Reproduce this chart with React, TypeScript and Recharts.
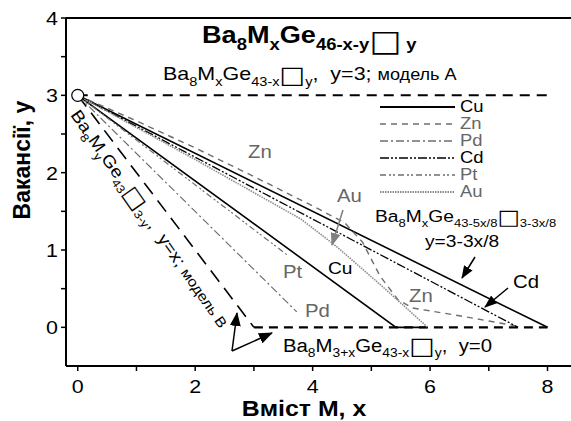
import React from 'react';
import { LineChart, Line, XAxis, YAxis, ReferenceLine, ReferenceDot, Legend } from 'recharts';

type Pt = { x: number; y: number };

const FONT = '"Liberation Sans", Arial, Helvetica, sans-serif';
const BOX_FONT = '"DejaVu Sans", sans-serif';
const GRAY = '#6e6e6e';
const TEXT_GRAY = '#666666';

// axis ticks
const xTicks = [0, 1, 2, 3, 4, 5, 6, 7, 8];
const xTickLabels = ['0', '', '2', '', '4', '', '6', '', '8'];
const yTicks = [0, 0.5, 1, 1.5, 2, 2.5, 3, 3.5, 4];
const yTickLabels = ['0', '', '1', '', '2', '', '3', '', '4'];

// model lines
const modelA: Pt[] = [{ x: 0, y: 3 }, { x: 8, y: 3 }];
const modelB: Pt[] = [{ x: 0, y: 3 }, { x: 3, y: 0 }];
const modelZero: Pt[] = [{ x: 3, y: 0 }, { x: 8, y: 0 }];
const modelMixed: Pt[] = [{ x: 0, y: 3 }, { x: 8, y: 0 }];

// element series
const cu: Pt[] = [{ x: 0, y: 3 }, { x: 5.42, y: 0 }, { x: 5.95, y: 0 }];
const zn: Pt[] = [
  { x: 0, y: 3 }, { x: 1, y: 2.67 }, { x: 2, y: 2.32 }, { x: 3, y: 1.95 }, { x: 4, y: 1.57 },
  { x: 4.55, y: 1.35 }, { x: 4.85, y: 1.1 }, { x: 5.15, y: 0.66 }, { x: 5.45, y: 0.36 },
  { x: 5.7, y: 0.25 }, { x: 6.5, y: 0.15 }, { x: 7.45, y: 0.02 },
];
const pd: Pt[] = [{ x: 0, y: 3 }, { x: 3.73, y: 0.2 }];
const cd: Pt[] = [{ x: 0, y: 3 }, { x: 7.5, y: 0 }];
const pt: Pt[] = [{ x: 0, y: 3 }, { x: 3.56, y: 0.94 }];
const au: Pt[] = [
  { x: 0, y: 3 }, { x: 2, y: 2.17 }, { x: 3.8, y: 1.4 }, { x: 4.4, y: 1.05 }, { x: 5.2, y: 0.52 }, { x: 5.96, y: 0 },
];

const series = [
  { name: 'Cu', data: cu, stroke: '#000', width: 1.6, dash: undefined as string | undefined, label: '#000' },
  { name: 'Zn', data: zn, stroke: GRAY, width: 1.4, dash: '6 5', label: TEXT_GRAY },
  { name: 'Pd', data: pd, stroke: GRAY, width: 1.2, dash: '8 3 2 3', label: TEXT_GRAY },
  { name: 'Cd', data: cd, stroke: '#000', width: 1.3, dash: '9 2 2 2 2 2', label: '#000' },
  { name: 'Pt', data: pt, stroke: GRAY, width: 1.2, dash: '6 3 2 2 2 3', label: TEXT_GRAY },
  { name: 'Au', data: au, stroke: '#8c8c8c', width: 1.6, dash: '1.5 1', label: TEXT_GRAY },
];

type Seg = { t: string; sub?: boolean; fs?: number; dy?: number; font?: string; weight?: string };

function Rich(props: {
  x: number; y: number; segs: Seg[]; fs: number; fill?: string; weight?: string;
  sx?: number; rot?: number; anchor?: string;
}) {
  const { x, y, segs, fs, fill = '#000', weight = 'normal', sx = 1.13, rot = 0, anchor = 'start' } = props;
  let cur = 0;
  const spans = segs.map((sg, i) => {
    const shift = sg.dy !== undefined ? sg.dy : sg.sub ? fs * 0.3 : 0;
    const dy = shift - cur;
    cur = shift;
    const size = sg.fs ?? (sg.sub ? fs * 0.68 : fs);
    return (
      <tspan key={i} dy={dy} fontSize={size} fontFamily={sg.font} fontWeight={sg.weight}>
        {sg.t}
      </tspan>
    );
  });
  return (
    <g transform={`translate(${x},${y}) rotate(${rot}) scale(${sx},1)`}>
      <text x={0} y={0} fill={fill} fontWeight={weight} fontSize={fs} fontFamily={FONT} textAnchor={anchor} style={{ whiteSpace: 'pre' }}>
        {spans}
      </text>
    </g>
  );
}

const n = (t: string, fs?: number): Seg => ({ t, fs });
const s = (t: string, fs?: number): Seg => ({ t, sub: true, fs });
const box = (fs: number, dy: number): Seg => ({ t: '\u25A1', fs, dy, font: BOX_FONT, weight: 'normal' });

function renderLegend() {
  return (
    <div style={{ fontFamily: FONT }}>
      {series.map((sr) => (
        <div key={sr.name} style={{ display: 'flex', alignItems: 'center', height: 17 }}>
          <svg width={80} height={17} style={{ display: 'block' }}>
            <line x1={2} x2={77} y1={9} y2={9} stroke={sr.stroke} strokeWidth={sr.width + 0.3} strokeDasharray={sr.dash} />
          </svg>
          <span style={{ fontSize: 16, color: sr.label, marginLeft: 2, lineHeight: '16px', display: 'inline-block', transform: 'scaleX(1.15)', transformOrigin: 'left center' }}>
            {sr.name}
          </span>
        </div>
      ))}
    </div>
  );
}

const XTick = (p: any) => {
  const i = xTicks.indexOf(p.payload.value);
  return (
    <g transform={`translate(${p.x},${p.y}) scale(1.13,1)`}>
      <text x={0} y={0} dy="0.71em" textAnchor="middle" fontSize={19} fontFamily={FONT} fill="#000">
        {xTickLabels[i]}
      </text>
    </g>
  );
};

const YTick = (p: any) => {
  const i = yTicks.indexOf(p.payload.value);
  return (
    <g transform={`translate(${p.x},${p.y}) scale(1.13,1)`}>
      <text x={0} y={0} dy="0.36em" textAnchor="end" fontSize={19} fontFamily={FONT} fill="#000">
        {yTickLabels[i]}
      </text>
    </g>
  );
};

export default function App() {
  return (
    <div style={{ position: 'absolute', left: 0, top: 0, width: 571, height: 421, background: '#fff' }}>
      <LineChart width={571} height={421} margin={{ top: 18, right: 0, left: 0, bottom: 0 }}>
        <XAxis
          dataKey="x" type="number" domain={[-0.2, 8.4]} ticks={xTicks} allowDataOverflow height={55}
          axisLine={{ stroke: '#000', strokeWidth: 2 }} tickLine={{ stroke: '#000', strokeWidth: 1.5 }}
          tickSize={5} tickMargin={8} tick={<XTick />} interval={0}
        />
        <YAxis
          dataKey="y" type="number" domain={[-0.5, 4]} ticks={yTicks} allowDataOverflow width={66}
          axisLine={{ stroke: '#000', strokeWidth: 2 }} tickLine={{ stroke: '#000', strokeWidth: 1.5 }}
          tickSize={5} tickMargin={3} tick={<YTick />} interval={0}
        />
        <ReferenceLine y={4} stroke="#000" strokeWidth={2} />
        <Line data={modelA} dataKey="y" stroke="#000" strokeWidth={2} strokeDasharray="10 7" dot={false} isAnimationActive={false} legendType="none" />
        <Line data={modelZero} dataKey="y" stroke="#000" strokeWidth={2.2} strokeDasharray="9 6" dot={false} isAnimationActive={false} legendType="none" />
        <Line data={modelB} dataKey="y" stroke="#000" strokeWidth={1.6} strokeDasharray="14 8" dot={false} isAnimationActive={false} legendType="none" />
        <Line data={modelMixed} dataKey="y" stroke="#000" strokeWidth={1.6} dot={false} isAnimationActive={false} legendType="none" />
        {series.map((sr) => (
          <Line
            key={sr.name} name={sr.name} data={sr.data} dataKey="y" stroke={sr.stroke}
            strokeWidth={sr.width} strokeDasharray={sr.dash} dot={false} isAnimationActive={false}
          />
        ))}
        <ReferenceDot x={0} y={3} r={6} fill="#fff" stroke="#000" strokeWidth={1.2} />
        <Legend
          layout="vertical" align="center" verticalAlign="middle" content={renderLegend}
          wrapperStyle={{ left: 378, top: 98, width: 120 }}
        />
      </LineChart>
      <svg width={571} height={421} style={{ position: 'absolute', left: 0, top: 0, pointerEvents: 'none' }}>
        <defs>
          <marker id="ahBig" viewBox="0 0 14 11" refX={13} refY={5.5} markerWidth={14} markerHeight={11} orient="auto" markerUnits="userSpaceOnUse">
            <path d="M0,0 L14,5.5 L0,11 z" fill="#000" />
          </marker>
          <marker id="ahBlack" viewBox="0 0 13 10" refX={12} refY={5} markerWidth={13} markerHeight={10} orient="auto" markerUnits="userSpaceOnUse">
            <path d="M0,0 L13,5 L0,10 z" fill="#000" />
          </marker>
          <marker id="ahGray" viewBox="0 0 13 10" refX={12} refY={5} markerWidth={13} markerHeight={10} orient="auto" markerUnits="userSpaceOnUse">
            <path d="M0,0 L13,5 L0,10 z" fill="#808080" />
          </marker>
        </defs>

        {/* titles */}
        <Rich x={202} y={43} fs={24} weight="bold" segs={[n('Ba'), s('8'), n('M'), s('x'), n('Ge'), s('46-x-y'), box(30, 8), s(' y')]} />
        <Rich x={163} y={80} fs={19} segs={[n('Ba'), s('8'), n('M'), s('x'), n('Ge'), s('43-x'), box(24, 3), s('y'), n(',  y=3; '), n('модель A', 16)]} />

        {/* series labels */}
        <Rich x={248} y={158} fs={18} fill={TEXT_GRAY} segs={[n('Zn')]} />
        <Rich x={337} y={202} fs={18} fill={TEXT_GRAY} segs={[n('Au')]} />
        <Rich x={283} y={278} fs={18} fill={TEXT_GRAY} segs={[n('Pt')]} />
        <Rich x={305} y={317} fs={18} fill={TEXT_GRAY} segs={[n('Pd')]} />
        <Rich x={328} y={274} fs={17} segs={[n('Cu')]} />
        <Rich x={409} y={302} fs={18} fill={TEXT_GRAY} segs={[n('Zn')]} />
        <Rich x={513} y={288} fs={18} segs={[n('Cd')]} />

        {/* model formulas */}
        <Rich x={375} y={222} fs={17} segs={[n('Ba'), s('8'), n('M'), s('x'), n('Ge'), s('43-5x/8'), box(21, 2), s('3-3x/8')]} />
        <Rich x={425} y={247} fs={17} segs={[n('y=3-3x/8')]} />
        <Rich x={283} y={352} fs={18} segs={[n('Ba'), s('8'), n('M'), s('3+x'), n('Ge'), s('43-x'), box(24, 2), s('y'), n(',  y=0')]} />
        <Rich x={70} y={115} fs={17} rot={55} segs={[n('Ba'), s('8'), n('M'), s('y'), n('Ge'), s('43'), box(22, 2), s('3-y'), n(',  y=x; '), n('модель B', 14)]} />

        {/* axis titles */}
        <Rich x={304} y={416} fs={22} weight="bold" anchor="middle" segs={[n('Вміст М, x')]} />
        <Rich x={30} y={160} fs={23} weight="bold" anchor="middle" rot={-90} sx={1} segs={[n('Вакансії, y')]} />

        {/* arrows */}
        <line x1={232} y1={351} x2={237} y2={313} stroke="#000" strokeWidth={1.5} markerEnd="url(#ahBig)" />
        <line x1={232} y1={351} x2={272} y2={333} stroke="#000" strokeWidth={1.5} markerEnd="url(#ahBig)" />
        <line x1={343} y1={210} x2={332} y2={245} stroke="#808080" strokeWidth={1.5} markerEnd="url(#ahGray)" />
        <line x1={475} y1={257} x2={462} y2={278} stroke="#000" strokeWidth={1.5} markerEnd="url(#ahBlack)" />
        <line x1={508} y1={288} x2={485} y2={307} stroke="#000" strokeWidth={1.5} markerEnd="url(#ahBlack)" />
      </svg>
    </div>
  );
}
